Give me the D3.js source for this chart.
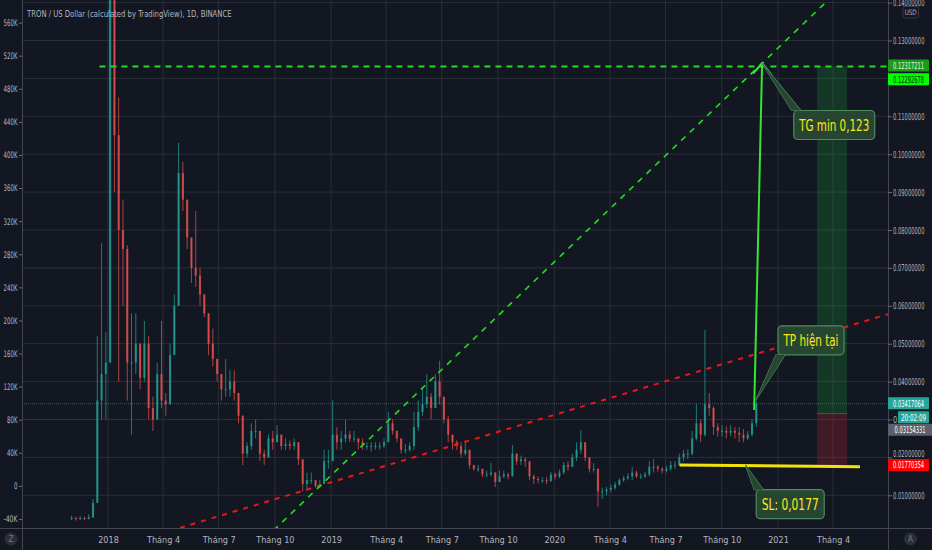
<!DOCTYPE html>
<html><head><meta charset="utf-8">
<script src="https://cdn.jsdelivr.net/npm/d3@7/dist/d3.min.js"></script>
<style>html,body{margin:0;padding:0;background:#131722;overflow:hidden}</style>
</head><body><svg id="c" width="932" height="550"></svg>
<script>
// ---------- DATA (weekly candles, TRX/USD) ----------
const firstWeek = "2017-10-30";
const open = [
.0038,.0040,.0038,.0040,.0038,.0042,.0080,.0350,.0420,.0450,
.1600,.1050,.0800,.0750,.0450,.0450,.0500,.0410,.0500,.0330,
.0300,.0420,.0350,.0340,.0470,.0600,.0950,.0880,.0780,.0700,
.0680,.0630,.0580,.0500,.0460,.0420,.0380,.0380,.0400,.0370,
.0310,.0210,.0230,.0270,.0270,.0210,.0200,.0250,.0240,.0260,
.0230,.0235,.0230,.0240,.0195,.0130,.0140,.0140,.0125,.0130,
.0190,.0190,.0260,.0240,.0250,.0260,.0250,.0250,.0240,.0230,
.0230,.0230,.0230,.0230,.0240,.0290,.0270,.0250,.0220,.0220,
.0230,.0280,.0320,.0340,.0360,.0330,.0400,.0360,.0300,.0260,
.0240,.0230,.0210,.0220,.0180,.0170,.0170,.0155,.0155,.0160,
.0135,.0150,.0155,.0150,.0210,.0190,.0195,.0190,.0150,.0143,
.0140,.0140,.0138,.0155,.0150,.0160,.0180,.0175,.0200,.0220,
.0240,.0200,.0170,.0170,.0110,.0110,.0115,.0120,.0128,.0140,
.0145,.0150,.0160,.0150,.0150,.0155,.0175,.0175,.0170,.0165,
.0170,.0180,.0180,.0200,.0210,.0210,.0250,.0290,.0260,.0340,
.0330,.0280,.0270,.0270,.0265,.0270,.0265,.0260,.0250,.0260,
.0290];
const high = [
.0046,.0044,.0045,.0044,.0050,.0090,.0520,.0765,.0530,.3000,
.2200,.1150,.0880,.0760,.0580,.0580,.0500,.0560,.0520,.0360,
.0450,.0560,.0370,.0500,.0630,.1030,.0980,.0880,.0780,.0850,
.0700,.0630,.0580,.0540,.0460,.0420,.0460,.0430,.0430,.0370,
.0310,.0240,.0290,.0300,.0270,.0220,.0260,.0270,.0285,.0260,
.0250,.0245,.0250,.0240,.0195,.0160,.0160,.0140,.0140,.0220,
.0220,.0350,.0280,.0270,.0300,.0270,.0270,.0250,.0250,.0240,
.0240,.0240,.0240,.0250,.0320,.0300,.0270,.0250,.0235,.0240,
.0320,.0350,.0380,.0420,.0370,.0420,.0455,.0360,.0310,.0260,
.0245,.0240,.0240,.0220,.0180,.0180,.0170,.0165,.0185,.0160,
.0165,.0165,.0160,.0233,.0210,.0205,.0200,.0190,.0155,.0150,
.0148,.0148,.0162,.0160,.0168,.0188,.0190,.0210,.0240,.0272,
.0240,.0200,.0185,.0170,.0120,.0122,.0128,.0135,.0145,.0152,
.0158,.0175,.0165,.0158,.0162,.0190,.0195,.0180,.0175,.0178,
.0190,.0190,.0210,.0220,.0222,.0270,.0340,.0300,.0536,.0370,
.0335,.0290,.0285,.0282,.0285,.0280,.0280,.0275,.0270,.0300,
.0350];
const low = [
.0034,.0033,.0035,.0034,.0036,.0040,.0080,.0300,.0300,.0450,
.0900,.0400,.0600,.0350,.0260,.0420,.0380,.0400,.0300,.0270,
.0300,.0330,.0310,.0340,.0470,.0600,.0850,.0750,.0660,.0650,
.0600,.0570,.0470,.0440,.0400,.0350,.0360,.0360,.0350,.0290,
.0180,.0200,.0220,.0250,.0190,.0180,.0200,.0220,.0240,.0220,
.0220,.0220,.0220,.0180,.0110,.0112,.0130,.0120,.0120,.0130,
.0170,.0190,.0220,.0220,.0240,.0240,.0240,.0220,.0220,.0220,
.0215,.0220,.0220,.0225,.0240,.0260,.0240,.0210,.0210,.0215,
.0220,.0270,.0310,.0330,.0300,.0330,.0340,.0290,.0240,.0220,
.0220,.0200,.0205,.0170,.0165,.0162,.0148,.0148,.0150,.0122,
.0135,.0145,.0142,.0150,.0180,.0180,.0175,.0140,.0130,.0132,
.0132,.0130,.0135,.0142,.0145,.0155,.0165,.0175,.0190,.0210,
.0190,.0160,.0160,.0070,.0090,.0100,.0108,.0115,.0125,.0135,
.0140,.0140,.0145,.0143,.0145,.0150,.0160,.0162,.0158,.0160,
.0165,.0170,.0178,.0190,.0195,.0205,.0245,.0240,.0255,.0310,
.0260,.0255,.0255,.0250,.0255,.0250,.0240,.0240,.0245,.0255,
.0280];
const close = [
.0040,.0038,.0040,.0038,.0042,.0080,.0350,.0420,.0450,.1600,
.1050,.0800,.0750,.0450,.0450,.0500,.0410,.0500,.0330,.0300,
.0420,.0350,.0340,.0470,.0600,.0950,.0880,.0780,.0700,.0680,
.0630,.0580,.0500,.0460,.0420,.0380,.0380,.0400,.0370,.0310,
.0210,.0230,.0270,.0270,.0210,.0200,.0250,.0240,.0260,.0230,
.0235,.0230,.0240,.0195,.0130,.0140,.0140,.0125,.0130,.0190,
.0190,.0260,.0240,.0250,.0260,.0250,.0250,.0240,.0230,.0230,
.0230,.0230,.0230,.0240,.0290,.0270,.0250,.0220,.0220,.0230,
.0280,.0320,.0340,.0360,.0330,.0400,.0360,.0300,.0260,.0240,
.0230,.0210,.0220,.0180,.0170,.0170,.0155,.0155,.0160,.0135,
.0150,.0155,.0150,.0210,.0190,.0195,.0190,.0150,.0143,.0140,
.0140,.0138,.0155,.0150,.0160,.0180,.0175,.0200,.0220,.0240,
.0200,.0170,.0170,.0110,.0110,.0115,.0120,.0128,.0140,.0145,
.0150,.0160,.0150,.0150,.0155,.0175,.0175,.0170,.0165,.0170,
.0180,.0180,.0200,.0210,.0210,.0250,.0290,.0260,.0340,.0330,
.0280,.0270,.0270,.0265,.0270,.0265,.0260,.0250,.0260,.0290,
.03417064];

const priceTicks = [0.01,0.02,0.03,0.04,0.05,0.06,0.07,0.08,0.09,0.10,0.11,0.12,0.13,0.14];
const priceTickLabels = ["0.01000000","0.02000000","0.","0.04000000","0.05000000","0.06000000","0.07000000","0.08000000","0.09000000","0.10000000","0.11000000","","0.13000000","0.14000000"];
const leftTicks = [-40000,0,40000,80000,120000,160000,200000,240000,280000,320000,360000,400000,440000,480000,520000,560000];
const leftTickLabels = ["-40K","0","40K","80K","120K","160K","200K","240K","280K","320K","360K","400K","440K","480K","520K","560K"];
const timeTicks = ["2018-01-01","2018-04-01","2018-07-01","2018-10-01","2019-01-01","2019-04-01","2019-07-01","2019-10-01","2020-01-01","2020-04-01","2020-07-01","2020-10-01","2021-01-01","2021-04-01"];
const timeTickLabels = ["2018","Tháng 4","Tháng 7","Tháng 10","2019","Tháng 4","Tháng 7","Tháng 10","2020","Tháng 4","Tháng 7","Tháng 10","2021","Tháng 4"];

// drawings (date, price anchors)
const targetPrice = 0.12317211, targetPrice2 = 0.12292678;
const lastPrice = 0.03417064, entryPrice = 0.03154331, stopPrice = 0.01770354;
const countdown = "20:02:09";
const targetLineStart = "2017-12-18";
const greenTrend = [["2018-11-11",0.0074],["2020-12-06",0.1240]];
const redTrend = [["2018-05-11",0.0020],["2021-06-30",0.0578]];
const arrowPts = [["2020-11-23",0.0325],["2020-12-06",0.1240]];
const slLine = [["2020-07-24",0.0180],["2021-05-15",0.01755]];
const position = {from:"2021-03-06", to:"2021-04-24"};
const callouts = [
  {text:"TG min 0,123", tip:["2020-12-06",0.1240], center:["2021-04-03",0.1077], len:70},
  {text:"TP hiện tại", tip:["2020-11-26",0.0352], center:["2021-02-24",0.0509], len:55},
  {text:"SL: 0,0177", tip:["2020-11-09",0.0180], center:["2021-01-21",0.00765], len:57}
];

// ---------- SETUP ----------
const W=932,H=550, L=22, R=888, B=528;
const P = d3.utcParse("%Y-%m-%d");
const svg = d3.select("#c");
const FONT = "'Liberation Sans Narrow','DejaVu Sans Condensed','Arial Narrow',sans-serif";
const TXT = "#b2b5be";

// squeeze a text horizontally to a target width, keeping its anchor x fixed
function squeeze(sel, widthFn){
  sel.each(function(d,i){
    const natural = this.getComputedTextLength();
    const target = typeof widthFn==="function" ? widthFn.call(this,d,i) : widthFn;
    if(!natural || !target || natural<=target) return;
    const s = target/natural;
    const ax = +(this.getAttribute("x")||0);
    this.setAttribute("transform",`translate(${ax*(1-s)},0) scale(${s},1)`);
  });
}

const x = d3.scaleUtc().domain([P("2018-01-01"),P("2021-01-01")]).range([108,778]);
const y = d3.scaleLinear().domain([0.01,0.13]).range([495.3,40.5]);
const yLeft = d3.scaleLinear().domain([0,560000]).range([485.9,22.6]);

svg.append("rect").attr("width",W).attr("height",H).attr("fill","#131722");
svg.append("defs").append("clipPath").attr("id","plot")
  .append("rect").attr("x",L).attr("y",0).attr("width",R-L).attr("height",B);

const plot = svg.append("g").attr("clip-path","url(#plot)");

// grid
plot.selectAll(".vg").data(timeTicks).join("line")
  .attr("x1",d=>x(P(d))).attr("x2",d=>x(P(d))).attr("y1",0).attr("y2",B)
  .attr("stroke","#2a2e39").attr("stroke-width",1);
plot.selectAll(".hg").data(priceTicks).join("line")
  .attr("x1",L).attr("x2",R).attr("y1",d=>y(d)).attr("y2",d=>y(d))
  .attr("stroke","#2a2e39").attr("stroke-width",1);

// last price line
plot.append("line").attr("x1",L).attr("x2",R).attr("y1",y(lastPrice)).attr("y2",y(lastPrice))
  .attr("stroke","#26a69a").attr("stroke-width",1).attr("stroke-dasharray","1,1").attr("opacity",0.55);

// position tool
const px0 = x(P(position.from)), px1 = x(P(position.to));
plot.append("rect").attr("x",px0).attr("width",px1-px0)
  .attr("y",y(targetPrice)).attr("height",y(entryPrice)-y(targetPrice))
  .attr("fill","rgba(34,171,59,0.22)");
plot.append("rect").attr("x",px0).attr("width",px1-px0)
  .attr("y",y(entryPrice)).attr("height",y(stopPrice)-y(entryPrice))
  .attr("fill","rgba(230,40,60,0.22)");
plot.append("line").attr("x1",px0).attr("x2",px1).attr("y1",y(entryPrice)).attr("y2",y(entryPrice))
  .attr("stroke","#6b4a3a").attr("stroke-width",1);

// candles
const start = P(firstWeek);
const candles = close.map((c,i)=>({
  t: d3.utcHour.offset(d3.utcDay.offset(start, 7*i), 84),
  o: open[i], h: high[i], l: low[i], c: c
}));
const bw = (x(d3.utcDay.offset(start,7)) - x(start)) * 0.5;
const cg = plot.append("g");
cg.selectAll(".w").data(candles).join("line")
  .attr("x1",d=>x(d.t)).attr("x2",d=>x(d.t)).attr("y1",d=>y(d.h)).attr("y2",d=>y(d.l))
  .attr("stroke",d=>d.c>=d.o?"#26a69a":"#ef5350").attr("stroke-width",1).attr("opacity",0.7);
cg.selectAll(".b").data(candles).join("rect")
  .attr("x",d=>x(d.t)-bw/2).attr("width",bw)
  .attr("y",d=>y(Math.max(d.o,d.c))).attr("height",d=>Math.max(1,Math.abs(y(d.o)-y(d.c))))
  .attr("fill",d=>d.c>=d.o?"#26a69a":"#ef5350").attr("opacity",0.72);

// extended trend lines
function extLine(pts){
  const a=[x(P(pts[0][0])),y(pts[0][1])], b=[x(P(pts[1][0])),y(pts[1][1])];
  const k=(b[1]-a[1])/(b[0]-a[0]);
  return [L, a[1]+k*(L-a[0]), R, a[1]+k*(R-a[0])];
}
const rl = extLine(redTrend);
plot.append("line").attr("x1",rl[0]).attr("y1",rl[1]).attr("x2",rl[2]).attr("y2",rl[3])
  .attr("stroke","#f01414").attr("stroke-width",2).attr("stroke-dasharray","5,6");
const gl = extLine(greenTrend);
plot.append("line").attr("x1",gl[0]).attr("y1",gl[1]).attr("x2",gl[2]).attr("y2",gl[3])
  .attr("stroke","#1fe01f").attr("stroke-width",1.6).attr("stroke-dasharray","6,6");

// target horizontal dashed line
plot.append("line").attr("x1",x(P(targetLineStart))).attr("x2",R)
  .attr("y1",y(targetPrice)).attr("y2",y(targetPrice))
  .attr("stroke","#1fe01f").attr("stroke-width",2).attr("stroke-dasharray","6,5");

// SL yellow line
plot.append("line").attr("x1",x(P(slLine[0][0]))).attr("y1",y(slLine[0][1]))
  .attr("x2",x(P(slLine[1][0]))).attr("y2",y(slLine[1][1]))
  .attr("stroke","#f2e30f").attr("stroke-width",3);

// arrow
const a0=[x(P(arrowPts[0][0])),y(arrowPts[0][1])], a1=[x(P(arrowPts[1][0])),y(arrowPts[1][1])];
plot.append("line").attr("x1",a0[0]).attr("y1",a0[1]).attr("x2",a1[0]).attr("y2",a1[1])
  .attr("stroke","#33e633").attr("stroke-width",2);
const ang = Math.atan2(a0[1]-a1[1], a0[0]-a1[0]);
[-0.7,0.7].forEach(dA=>{
  plot.append("line").attr("x1",a1[0]).attr("y1",a1[1])
    .attr("x2",a1[0]+13*Math.cos(ang+dA)).attr("y2",a1[1]+13*Math.sin(ang+dA))
    .attr("stroke","#33e633").attr("stroke-width",2).attr("stroke-linecap","round");
});

// callouts
const CF="#264632", CS="#4f8a5f";
callouts.forEach(c=>{
  const tx=x(P(c.tip[0])), ty=y(c.tip[1]);
  const cx=x(P(c.center[0])), cy=y(c.center[1]);
  const w=c.len+11, h=29, bx=cx-w/2, by=cy-h/2;
  const dir = tx<cx?1:-1;
  const kx = tx<cx?bx:bx+w, ky = ty<cy?by:by+h;
  const pts=[[tx,ty],[kx-2*dir,ky],[kx+7*dir,ky]];
  const g=plot.append("g");
  g.append("polygon").attr("points",pts.map(p=>p.join(",")).join(" ")).attr("fill",CF).attr("stroke",CS).attr("stroke-width",1.2);
  g.append("rect").attr("x",bx).attr("y",by).attr("width",w).attr("height",h).attr("rx",4)
    .attr("fill",CF).attr("stroke",CS).attr("stroke-width",1.2);
  g.append("polygon").attr("points",pts.map(p=>p.join(",")).join(" ")).attr("fill",CF);
  const t=g.append("text").attr("x",cx).attr("y",cy+5.5).attr("text-anchor","middle")
    .attr("font-family",FONT).attr("font-size",16).attr("fill","#ffe81a").text(c.text);
  squeeze(t, c.len);
});

// ---------- AXES ----------
const lineC="#434651";
svg.append("line").attr("x1",L+0.5).attr("x2",L+0.5).attr("y1",0).attr("y2",H).attr("stroke",lineC);
svg.append("line").attr("x1",R+0.5).attr("x2",R+0.5).attr("y1",0).attr("y2",H).attr("stroke",lineC);
svg.append("line").attr("x1",0).attr("x2",W).attr("y1",B+0.5).attr("y2",B+0.5).attr("stroke",lineC);

// title
const title = svg.append("text").attr("x",27).attr("y",17).attr("font-family",FONT).attr("font-size",9.5)
  .attr("fill",TXT).text("TRON / US Dollar (calculated by TradingView), 1D, BINANCE");
squeeze(title, 205);

// left axis
const la = svg.append("g").attr("transform",`translate(${L},0)`)
  .call(d3.axisLeft(yLeft).tickValues(leftTicks).tickFormat((d,i)=>leftTickLabels[i]).tickSize(3).tickPadding(1.5));
la.select(".domain").remove();
la.selectAll("line").attr("stroke","#6a6d78");
squeeze(la.selectAll("text").attr("fill",TXT).attr("font-family",FONT).attr("font-size",9),
  function(){return this.textContent.length*3.5;});

// right axis
const ra = svg.append("g").attr("transform",`translate(${R},0)`)
  .call(d3.axisRight(y).tickValues(priceTicks).tickFormat((d,i)=>priceTickLabels[i]).tickSize(4).tickPadding(1));
ra.select(".domain").remove();
ra.selectAll("line").attr("stroke","#6a6d78");
ra.selectAll(".tick").filter(d=>d===0.02).select("text").attr("dy","-0.05em");
squeeze(ra.selectAll("text").attr("fill",TXT).attr("font-family",FONT).attr("font-size",9.5),
  function(){return this.textContent.length*3.15;});

// bottom axis
const ba = svg.append("g").attr("transform",`translate(0,${B})`)
  .call(d3.axisBottom(x).tickValues(timeTicks.map(P)).tickFormat((d,i)=>timeTickLabels[i]).tickSize(0).tickPadding(9));
ba.select(".domain").remove();
ba.selectAll("text").attr("fill",TXT).attr("font-family",FONT).attr("font-size",9);

// price tags on right axis
function tag(cy, label, fill, tcol, x0=R, w=41){
  svg.append("rect").attr("x",x0).attr("y",cy-6).attr("width",w).attr("height",12).attr("fill",fill).attr("rx",1);
  const t=svg.append("text").attr("x",x0+w/2).attr("y",cy+3.4).attr("text-anchor","middle")
    .attr("font-family",FONT).attr("font-size",9.5).attr("fill",tcol).text(label);
  squeeze(t, label.length>8?31:25);
}
tag(y(targetPrice)-1, targetPrice.toFixed(8), "#1a9b1a", "#e8f5e8");
tag(y(targetPrice2)+12, targetPrice2.toFixed(8), "#00ff00", "#0b2a0b");
tag(y(lastPrice)-0.5, lastPrice.toFixed(8), "#26a69a", "#ffffff");
tag(y(lastPrice)+13.5, countdown, "#26a69a", "#ffffff", 898, 31);
tag(y(entryPrice)+16, entryPrice.toFixed(8), "#5d606b", "#ffffff", R, 44);
tag(y(stopPrice)-1.2, stopPrice.toFixed(8), "#ff0000", "#ffffff");

// USD badge
svg.append("rect").attr("x",903).attr("y",6.5).attr("width",15.5).attr("height",11.5).attr("rx",2)
  .attr("fill","#131722").attr("stroke","#363a45");
squeeze(svg.append("text").attr("x",910.7).attr("y",15).attr("text-anchor","middle").attr("font-family",FONT)
  .attr("font-size",7.5).attr("fill",TXT).text("USD"), 12);

// corner buttons
[[11,539,"Z"],[910.5,539,"A"]].forEach(([cx,cy,t])=>{
  svg.append("circle").attr("cx",cx).attr("cy",cy).attr("r",6.5).attr("fill","#2a2e39");
  svg.append("text").attr("x",cx).attr("y",cy+3).attr("text-anchor","middle").attr("font-family",FONT)
    .attr("font-size",8).attr("fill","#787b86").text(t);
});
</script></body></html>
